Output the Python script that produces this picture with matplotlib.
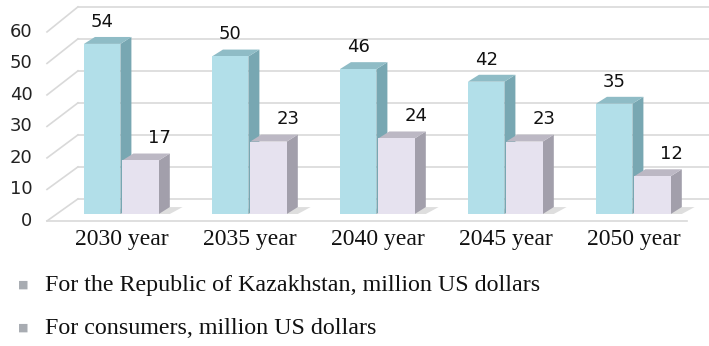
import matplotlib.pyplot as plt
from matplotlib.patches import Polygon

categories = ["2030 year", "2035 year", "2040 year", "2045 year", "2050 year"]
kazakhstan = [54, 50, 46, 42, 35]
consumers = [17, 23, 24, 23, 12]
yticks = [0, 10, 20, 30, 40, 50, 60]
legend_labels = ["For the Republic of Kazakhstan, million US dollars",
                 "For consumers, million US dollars"]

W, H = 709, 346
fig = plt.figure(figsize=(W / 100, H / 100), dpi=100)
# axes covers pixels y 0..230 and full width; 1 x-unit = 128 px, 1 y-unit = 3.15 px
ax = fig.add_axes([0, (H - 230) / H, 1, 230 / H])
ax.set_xlim(-122 / 128, (W - 122) / 128)
ax.set_ylim(-16 / 3.15, 214 / 3.15)
ax.axis("off")

grid_c = "#d9d9d9"
back_dy = 4.8       # back wall lift in value units
back_k = 1.016      # back wall scale (slight perspective)
wall_x0, wall_x1 = -0.586, -0.344
floor_dy = -2.2

# back wall gridlines and left wall diagonals
for v in yticks:
    yb = v * back_k + back_dy
    ax.plot([wall_x1, 4.586], [yb, yb], color=grid_c, lw=1.2, zorder=1)
    ax.plot([wall_x0, wall_x1], [v + floor_dy, yb], color=grid_c, lw=1.2, zorder=1)
    ax.text(-0.70, v + floor_dy, str(v), ha="right", va="center",
            fontsize=13, family="DejaVu Sans", color="#222222")
# floor front edge
ax.plot([wall_x0, 4.414], [floor_dy, floor_dy], color=grid_c, lw=1.2, zorder=1)

w = 0.285
dx, dy = 0.086, 2.2

series = [
    (kazakhstan, -0.155, "#b2dfe9", "#78a7b2", "#8fbcc6", 0),
    (consumers, 0.145, "#e6e2ef", "#a29fab", "#bcb8c4", 0.15),
]
for vals, off, front, side, top, lab_off in series:
    for i, v in enumerate(vals):
        x0 = i + off - w / 2
        x1 = x0 + w
        # floor shadow
        ax.add_patch(Polygon([(x0, 0), (x1 + dx, 0), (x1 + dx + 0.1, dy), (x1 + dx, dy)],
                             closed=True, color="#c8c8c8", alpha=0.6, lw=0, zorder=2))
        ax.add_patch(Polygon([(x1, 0), (x1 + dx, dy), (x1 + dx, v + dy), (x1, v)],
                             closed=True, color=side, lw=0, zorder=3))
        ax.add_patch(Polygon([(x0, v), (x1, v), (x1 + dx, v + dy), (x0 + dx, v + dy)],
                             closed=True, color=top, lw=0, zorder=3))
        ax.bar(i + off, v, width=w, color=front, edgecolor="none", zorder=4)
        ax.text(i + off + lab_off, v + 7.0, str(v), ha="center", va="center",
                fontsize=13, family="DejaVu Sans", color="#111111")

for i, c in enumerate(categories):
    ax.text(i, -8.0, c, ha="center", va="center", fontsize=17,
            family="Liberation Serif", color="#111111")

# legend
for k, lab in enumerate(legend_labels):
    yp = 1 - (285 + 43 * k) / H
    fig.text(23 / W, yp, "\u25a0", ha="center", va="center", fontsize=8, color="#a8acb2")
    fig.text(45 / W, yp, lab, ha="left", va="center", fontsize=17.3,
             family="Liberation Serif", color="#111111")

fig.savefig("out.png", dpi=100)
